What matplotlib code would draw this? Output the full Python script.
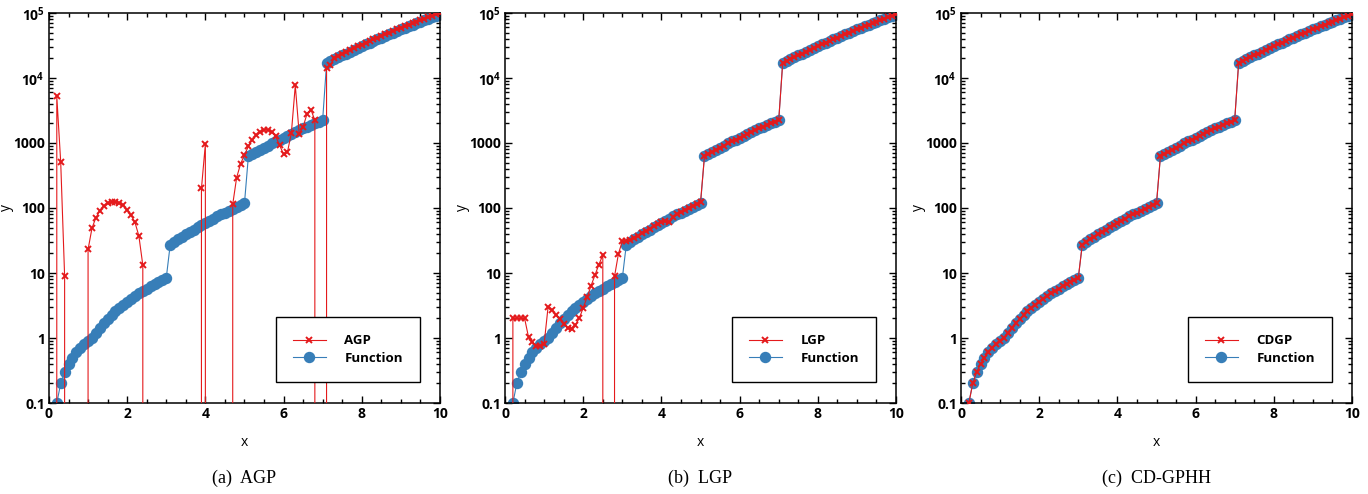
import matplotlib
matplotlib.use("Agg")
import matplotlib.pyplot as plt
from matplotlib.ticker import FixedLocator, FixedFormatter, LogLocator, MultipleLocator, NullFormatter

plt.rcParams['font.family'] = ['Open Sans', 'DejaVu Sans']
plt.rcParams['font.weight'] = 'bold'
plt.rcParams['mathtext.fontset'] = 'custom'
plt.rcParams['mathtext.rm'] = 'Open Sans:bold'
plt.rcParams['mathtext.it'] = 'Open Sans:bold'

# sample points
x = [0.1, 0.2, 0.3, 0.4, 0.5, 0.6, 0.7, 0.8, 0.9, 1.0,
     1.1, 1.2, 1.3, 1.4, 1.5, 1.6, 1.7, 1.8, 1.9, 2.0,
     2.1, 2.2, 2.3, 2.4, 2.5, 2.6, 2.7, 2.8, 2.9, 3.0,
     3.1, 3.2, 3.3, 3.4, 3.5, 3.6, 3.7, 3.8, 3.9, 4.0,
     4.1, 4.2, 4.3, 4.4, 4.5, 4.6, 4.7, 4.8, 4.9, 5.0,
     5.1, 5.2, 5.3, 5.4, 5.5, 5.6, 5.7, 5.8, 5.9, 6.0,
     6.1, 6.2, 6.3, 6.4, 6.5, 6.6, 6.7, 6.8, 6.9, 7.0,
     7.1, 7.2, 7.3, 7.4, 7.5, 7.6, 7.7, 7.8, 7.9, 8.0,
     8.1, 8.2, 8.3, 8.4, 8.5, 8.6, 8.7, 8.8, 8.9, 9.0,
     9.1, 9.2, 9.3, 9.4, 9.5, 9.6, 9.7, 9.8, 9.9, 10.0]

# target function (0 = not shown on log axis)
func = [0, 0.1, 0.2, 0.3, 0.4, 0.5, 0.6, 0.7, 0.8, 0.9,
        1.0, 1.21, 1.44, 1.69, 1.96, 2.25, 2.56, 2.89, 3.24, 3.61,
        4.0, 4.41, 4.84, 5.29, 5.76, 6.25, 6.76, 7.29, 7.84, 8.41,
        27.0, 29.79, 32.77, 35.94, 39.30, 42.88, 46.66, 50.65, 54.87, 59.32,
        64.0, 68.92, 74.09, 79.51, 85.18, 91.13, 97.34, 103.8, 110.6, 117.6,
        625, 676.5, 731.2, 789.0, 850.3, 915.1, 983.4, 1055.6, 1131.6, 1211.7,
        1296, 1384.6, 1477.6, 1575.3, 1677.7, 1785.1, 1897.5, 2015.1, 2138.1, 2266.8,
        16807, 18042, 19349, 20731, 22190, 23730, 25355, 27068, 28872, 30771,
        32768, 34868, 37074, 39390, 41821, 44371, 47043, 49842, 52773, 55841,
        59049, 62403, 65908, 69569, 73390, 77378, 81537, 85873, 90392, 95099]

agp = [0, 5200, 510, 9.0, 0, 0, 0, 0, 0, 23,
       49, 71, 91, 107, 118, 122, 122, 118, 110, 93,
       77, 60, 37, 13.2, 0, 0, 0, 0, 0, 0,
       0, 0, 0, 0, 0, 0, 0, 0, 200, 965,
       0, 0, 0, 0, 0, 0, 114, 294, 475, 660,
       886, 1125, 1310, 1480, 1600, 1600, 1480, 1265, 918, 675,
       725, 1430, 7700, 1375, 1770, 2810, 3270, 2230, 0, 0,
       14500, 15800, 20200, 22000, 23600, 25300, 27000, 28800, 30700, 32700,
       34800, 37000, 39300, 41800, 44300, 47000, 49800, 52700, 55800, 59000,
       62400, 65900, 69500, 73400, 77400, 81500, 85900, 90400, 95100, 99000]

lgp = [0, 2.0, 2.0, 2.0, 2.0, 1.03, 0.87, 0.75, 0.76, 0.82,
       3.0, 2.66, 2.29, 1.96, 1.67, 1.42, 1.39, 1.57, 2.03, 2.93,
       4.27, 6.4, 9.3, 13.5, 18.8, 0, 0, 8.9, 19.8, 31,
       31, 32, 35, 37, 41, 44, 48, 52, 56, 61,
       62, 60, 72, 80, 86, 92, 99, 106, 114, 124,
       625, 676.5, 731.2, 789.0, 850.3, 915.1, 983.4, 1055.6, 1131.6, 1211.7,
       1296, 1384.6, 1477.6, 1575.3, 1677.7, 1785.1, 1897.5, 2015.1, 2138.1, 2266.8,
       16807, 18042, 19349, 20731, 22190, 23730, 25355, 27068, 28872, 30771,
       32768, 34868, 37074, 39390, 41821, 44371, 47043, 49842, 52773, 55841,
       59049, 62403, 65908, 69569, 73390, 77378, 81537, 85873, 90392, 95099]

cdgp = list(func)

methods = ['AGP', 'LGP', 'CDGP']
captions = ['(a)  AGP', '(b)  LGP', '(c)  CD-GPHH']
results = [agp, lgp, cdgp]

ytick_vals = [0.1, 1, 10, 100, 1000, 1e4, 1e5]
ytick_labels = ['0.1', '1', '10', '100', '1000', r'$10^4$', r'$10^5$']

RED = '#e41a1c'
BLUE = '#377eb8'

fig = plt.figure(figsize=(13.68, 4.94), dpi=100)
lefts = [0.0358, 0.3692, 0.7025]

for left, name, cap, res in zip(lefts, methods, captions, results):
    ax = fig.add_axes([left, 0.1842, 0.2858, 0.7895])
    ax.set_yscale('log')
    hf, = ax.plot(x, func, color=BLUE, lw=0.8, marker='o', ms=7.2,
                  mec=BLUE, mfc=BLUE, label='Function', zorder=2)
    hr, = ax.plot(x, res, color=RED, lw=0.8, marker='x', ms=4.8,
                  mew=1.4, label=name, zorder=3)
    ax.set_xlim(0, 10)
    ax.set_ylim(0.1, 1e5)
    ax.xaxis.set_major_locator(MultipleLocator(2))
    ax.xaxis.set_minor_locator(MultipleLocator(0.5))
    ax.yaxis.set_major_locator(FixedLocator(ytick_vals))
    ax.yaxis.set_major_formatter(FixedFormatter(ytick_labels))
    ax.yaxis.set_minor_locator(LogLocator(base=10, subs=range(2, 10), numticks=20))
    ax.yaxis.set_minor_formatter(NullFormatter())
    ax.tick_params(which='both', direction='in', top=True, right=True,
                   labelsize=10, width=1.0, pad=3)
    ax.tick_params(which='major', length=5)
    ax.tick_params(which='minor', length=3)
    for s in ax.spines.values():
        s.set_linewidth(1.1)
    ax.set_xlabel('x', fontsize=10, labelpad=10)
    ax.set_ylabel('y', fontsize=10, labelpad=-1)
    leg = ax.legend(handles=[hr, hf], loc='lower right',
                    bbox_to_anchor=(0.949, 0.054), borderaxespad=0,
                    fancybox=False, edgecolor='black', framealpha=1,
                    fontsize=9.5, borderpad=1.3, handlelength=2.5,
                    handletextpad=1.4, labelspacing=0.35)
    leg.get_frame().set_linewidth(1.0)
    fig.text(left + 0.2858 / 2, 0.032, cap, ha='center', va='center',
             fontsize=13, family='Liberation Serif', weight='normal')

fig.savefig('out.png', dpi=100)
